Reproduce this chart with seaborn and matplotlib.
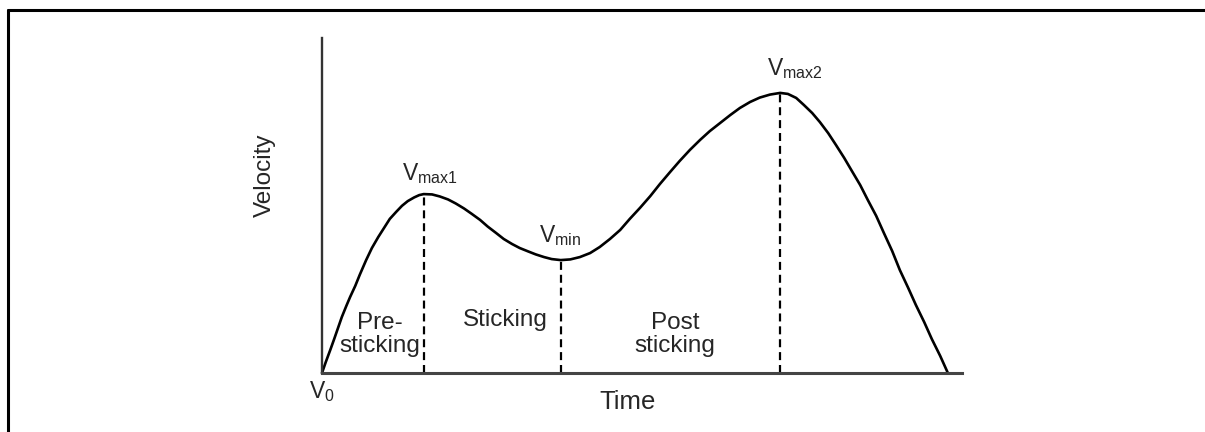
import matplotlib
matplotlib.use("Agg")
import matplotlib.pyplot as plt
from matplotlib.lines import Line2D
import seaborn as sns
import pandas as pd

# Velocity profile of a lift, in arbitrary time / velocity units
time = [0.00, 0.06, 0.13, 0.19, 0.25, 0.31, 0.38, 0.44, 0.52, 0.59, 0.69, 0.78,
        0.88, 0.97, 1.06, 1.16, 1.25, 1.34, 1.44, 1.52, 1.59,
        1.72, 1.84, 1.97, 2.09, 2.22, 2.34, 2.47, 2.59, 2.72, 2.84, 2.97, 3.09,
        3.22, 3.34, 3.47, 3.59, 3.73,
        3.88, 4.03, 4.19, 4.34, 4.50, 4.66, 4.81, 4.97, 5.13, 5.28, 5.44, 5.59,
        5.75, 5.91, 6.06, 6.22, 6.38, 6.53, 6.69, 6.84, 7.00, 7.16,
        7.28, 7.41, 7.53, 7.66, 7.78, 7.91, 8.03, 8.16, 8.28, 8.41, 8.53, 8.66,
        8.78, 8.91, 9.03, 9.16, 9.28, 9.41, 9.53, 9.66, 9.78]
velocity = [0.00, 0.33, 0.69, 1.01, 1.34, 1.67, 2.00, 2.27, 2.60, 2.93, 3.37, 3.73,
            4.06, 4.33, 4.60, 4.81, 4.99, 5.13, 5.24, 5.31, 5.34,
            5.33, 5.27, 5.18, 5.06, 4.91, 4.75, 4.57, 4.37, 4.18, 4.00, 3.85, 3.73,
            3.63, 3.54, 3.46, 3.40, 3.37,
            3.39, 3.46, 3.58, 3.76, 4.00, 4.27, 4.60, 4.93, 5.28, 5.64, 6.00, 6.33,
            6.66, 6.96, 7.22, 7.46, 7.70, 7.91, 8.09, 8.22, 8.31, 8.36,
            8.33, 8.21, 8.00, 7.76, 7.49, 7.16, 6.81, 6.42, 6.03, 5.61, 5.16, 4.69,
            4.18, 3.64, 3.07, 2.54, 2.03, 1.52, 1.01, 0.51, 0.00]

# Key points on the curve
key_time = [1.59, 3.73, 7.16]
key_vel = [5.34, 3.37, 8.36]
key_labels = [r"V$_{\mathrm{max1}}$", r"V$_{\mathrm{min}}$", r"V$_{\mathrm{max2}}$"]

# Phase labels
phase_labels = ["Pre-\nsticking", "Sticking", "Post\nsticking"]
phase_time = [0.91, 2.86, 5.52]
phase_vel = [1.15, 1.58, 1.15]

sns.set_theme(style="white")
plt.rcParams["font.family"] = ["Liberation Sans", "DejaVu Sans"]
plt.rcParams["mathtext.fontset"] = "custom"
plt.rcParams["mathtext.rm"] = "Liberation Sans"
plt.rcParams["mathtext.it"] = "Liberation Sans"

txt = "#262626"

fig = plt.figure(figsize=(12.05, 4.32), dpi=100)
ax = fig.add_axes([0.2672, 0.1366, 0.5311, 0.7755])

df = pd.DataFrame({"Time": time, "Velocity": velocity})
sns.lineplot(data=df, x="Time", y="Velocity", ax=ax, color="black",
             linewidth=1.9, sort=False, estimator=None, clip_on=False,
             solid_joinstyle="round")

ax.vlines(key_time, 0, key_vel, colors="black", linewidth=1.6,
          linestyles=(0, (3.6, 2.2)))

ax.set_xlim(0, 10)
ax.set_ylim(0, 10)
ax.set_xticks([])
ax.set_yticks([])
ax.set_xlabel("")
ax.set_ylabel("")
for side in ["top", "right"]:
    ax.spines[side].set_visible(False)
ax.spines["left"].set_color("#333333")
ax.spines["left"].set_linewidth(1.7)
ax.spines["bottom"].set_color("#444444")
ax.spines["bottom"].set_linewidth(2.2)

# Axis titles
ax.text(-0.089, 0.591, "Velocity", transform=ax.transAxes, rotation=90,
        ha="center", va="center", fontsize=17.5, color=txt)
ax.text(0.478, -0.087, "Time", transform=ax.transAxes,
        ha="center", va="center", fontsize=18.5, color=txt)
ax.text(0.0, -0.056, r"V$_{\mathrm{0}}$", transform=ax.transAxes,
        ha="center", va="center", fontsize=16.5, color=txt)

# Key point labels
offsets = [(4.5, 5.5), (-0.5, 8.5), (10.5, 8.5)]
for lab, t, v, off in zip(key_labels, key_time, key_vel, offsets):
    ax.annotate(lab, xy=(t, v), xytext=off, textcoords="offset points",
                ha="center", va="bottom", fontsize=16.5, color=txt)

# Phase labels
for lab, t, v in zip(phase_labels, phase_time, phase_vel):
    ax.text(t, v, lab, ha="center", va="center", fontsize=17.5, color=txt,
            linespacing=1.1)

# Outer frame (left and top edges)
fig.add_artist(Line2D([8 / 1205, 8 / 1205], [0, 1 - 10 / 432],
                      transform=fig.transFigure, color="black", linewidth=2.2))
fig.add_artist(Line2D([8 / 1205, 1], [1 - 10 / 432, 1 - 10 / 432],
                      transform=fig.transFigure, color="black", linewidth=2.2))

fig.savefig("out.png", dpi=100, facecolor="white")
